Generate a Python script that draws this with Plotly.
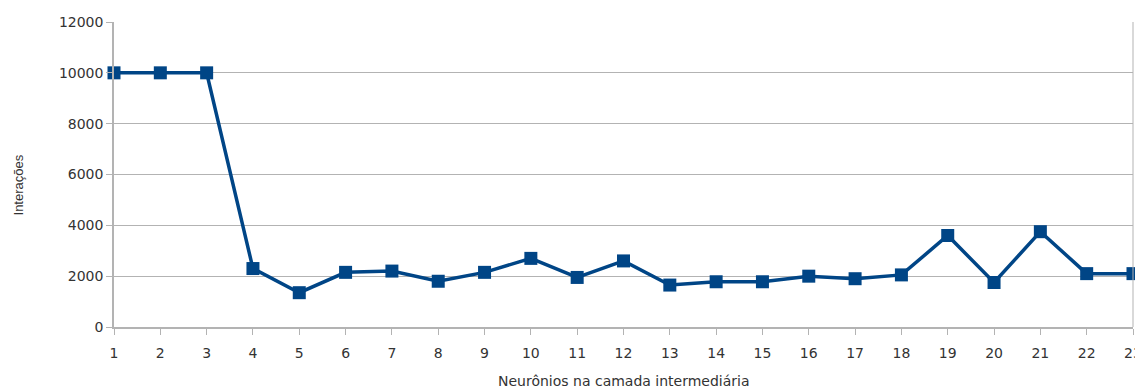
import plotly.graph_objects as go

neurons = list(range(1, 24))
iterations = [10000, 10000, 10000, 2300, 1350, 2150, 2200, 1800, 2150, 2700,
              1950, 2600, 1650, 1780, 1780, 2000, 1900, 2050, 3600, 1750,
              3750, 2100, 2100]
y_ticks = [0, 2000, 4000, 6000, 8000, 10000, 12000]
y_tick_labels = [str(v) for v in y_ticks]

fig = go.Figure(go.Scatter(
    x=neurons, y=iterations, mode="lines+markers",
    line=dict(color="#004586", width=3.5),
    marker=dict(symbol="square", size=13, color="#004586"),
    cliponaxis=False,
))

# page body has an 8px default margin, so the figure is sized to fit the window
fig.update_layout(
    width=1135, height=382,
    margin=dict(l=106, r=10, t=14, b=63, autoexpand=False),
    paper_bgcolor="white", plot_bgcolor="white",
    font=dict(family="DejaVu Sans, sans-serif", size=14, color="#333"),
    showlegend=False,
)
fig.update_xaxes(
    range=[1, 23], tickmode="array", tickvals=neurons,
    ticks="outside", ticklen=6, tickcolor="#b3b3b3", automargin=False,
    ticklabelstandoff=6,
    showline=True, linecolor="#b3b3b3", linewidth=1.5,
    showgrid=False, zeroline=False,
)
fig.update_yaxes(
    range=[0, 12000], tickmode="array", tickvals=y_ticks, ticktext=y_tick_labels,
    ticks="outside", ticklen=6, tickcolor="#b3b3b3", automargin=False,
    showline=True, linecolor="#b3b3b3", linewidth=1.5,
    showgrid=True, gridcolor="#b3b3b3", gridwidth=1, zeroline=False,
)
fig.add_shape(type="line", xref="paper", yref="paper", x0=1, x1=1, y0=0, y1=1,
              line=dict(color="#b3b3b3", width=1))
fig.add_annotation(text="Neurônios na camada intermediária", xref="paper", yref="paper",
                   x=0.5, y=0, yshift=-54, showarrow=False, xanchor="center", yanchor="middle",
                   font=dict(size=14))
fig.add_annotation(text="Interações", xref="paper", yref="paper",
                   x=0, xshift=-96, y=0.464, showarrow=False, textangle=-90,
                   xanchor="center", yanchor="middle",
                   font=dict(family="Liberation Sans, Arial, sans-serif", size=13))

fig.write_html("out.html")
